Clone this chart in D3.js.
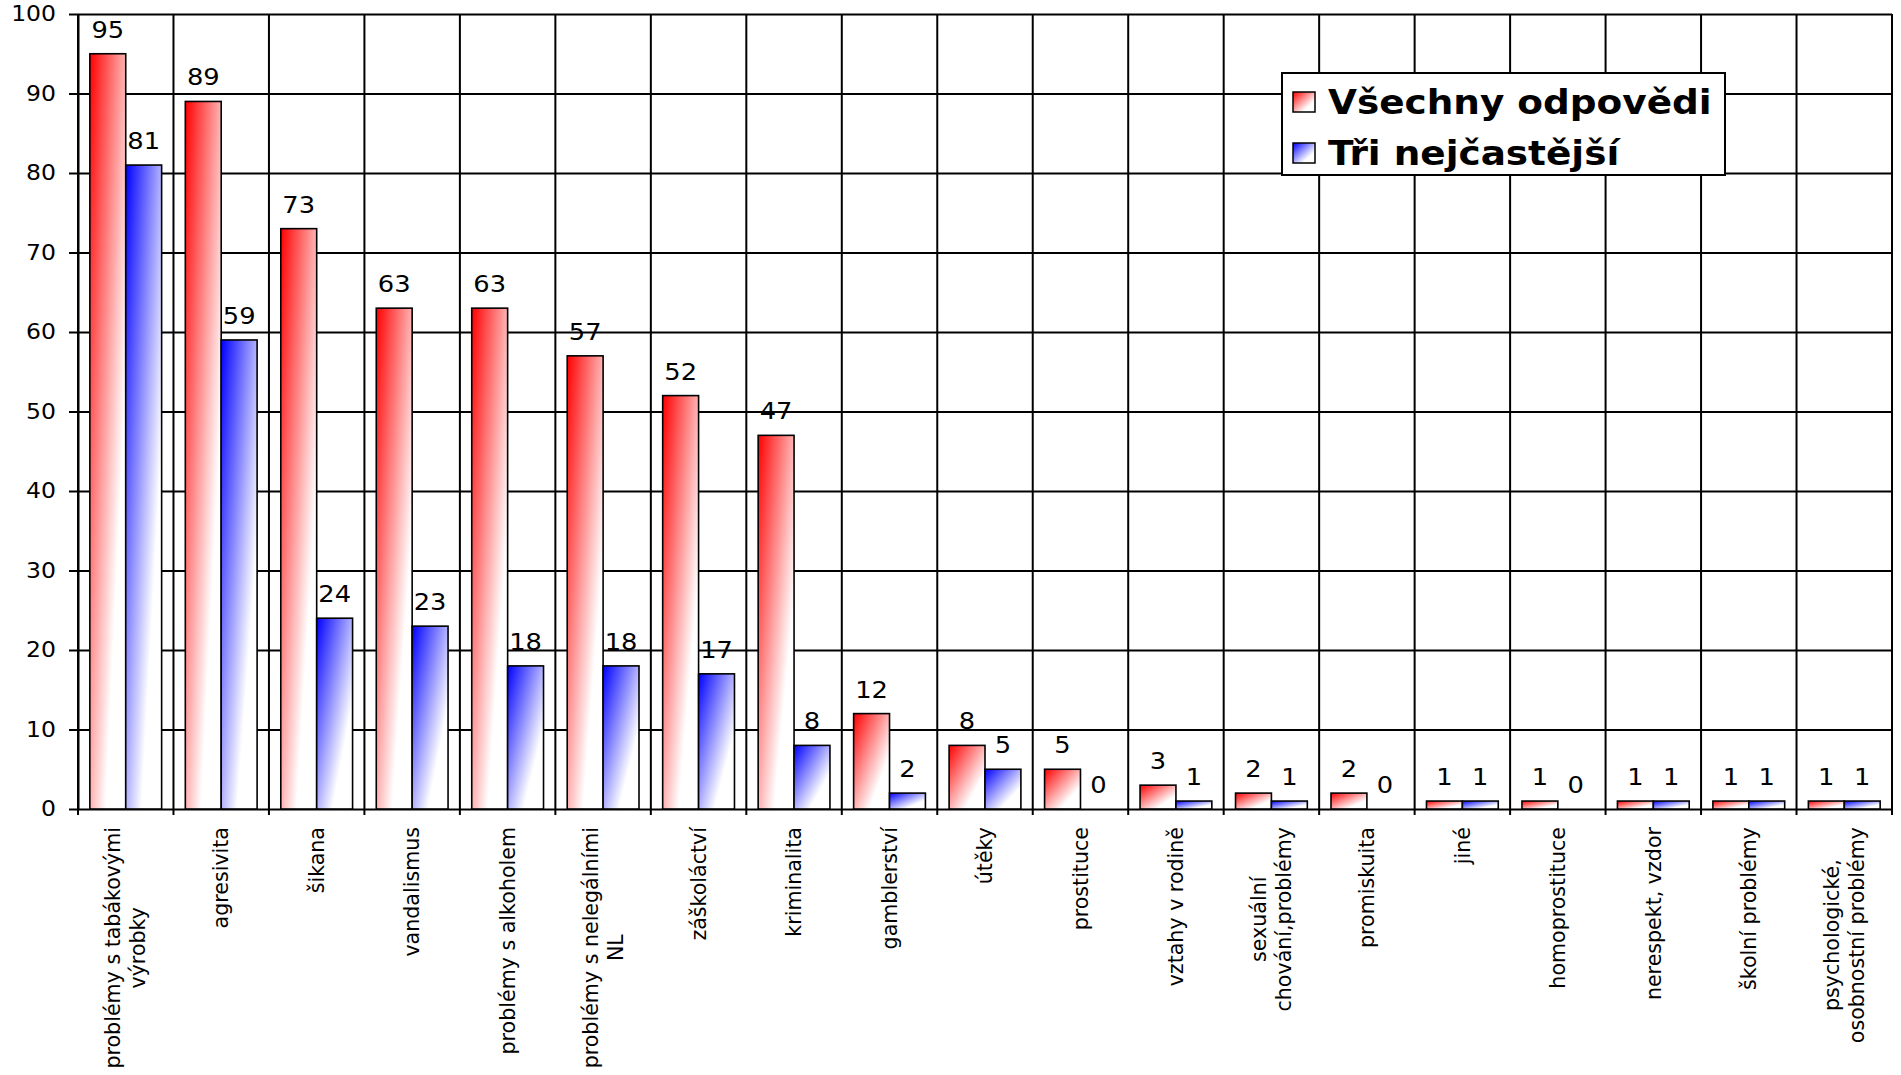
<!DOCTYPE html>
<html>
<head>
<meta charset="utf-8">
<script src="https://cdn.jsdelivr.net/npm/d3@7"></script>
<style>
  body { margin: 0; background: #fff; }
  svg { display: block; font-family: "DejaVu Sans", Verdana, sans-serif; }
  /* the reference text is a bit wider than DejaVu, stretch it sideways */
  .wide { transform-box: fill-box; transform-origin: center; transform: scaleX(1.12); }
  .wide-end { transform-box: fill-box; transform-origin: right center; transform: scaleX(1.12); }
  .wide-start { transform-box: fill-box; transform-origin: left center; transform: scaleX(1.1); }
</style>
</head>
<body>
<script>
// chart values
var categories = [
  "problémy s tabákovými\nvýrobky", "agresivita", "šikana", "vandalismus",
  "problémy s alkoholem", "problémy s nelegálními\nNL", "záškoláctví",
  "kriminalita", "gamblerství", "útěky", "prostituce", "vztahy v rodině",
  "sexuální\nchování,problémy", "promiskuita", "jiné", "homoprostituce",
  "nerespekt, vzdor", "školní problémy", "psychologické,\nosobnostní problémy"
];
var allAnswers = [95, 89, 73, 63, 63, 57, 52, 47, 12, 8, 5, 3, 2, 2, 1, 1, 1, 1, 1];
var topThree   = [81, 59, 24, 23, 18, 18, 17, 8, 2, 5, 0, 1, 1, 0, 1, 0, 1, 1, 1];
var seriesNames = ["Všechny odpovědi", "Tři nejčastější"];
var yTicks = [0, 10, 20, 30, 40, 50, 60, 70, 80, 90, 100];

(function() {
  'use strict';

  var W = 1901, H = 1075;
  var margin = {top: 14, left: 78, right: 9, bottom: 266};
  var width = W - margin.left - margin.right;
  var height = H - margin.top - margin.bottom;

  var keys = ["all", "top"];
  var colors = {all: "#ff0000", top: "#0000ff"};

  var data = categories.map(function(c, i) {
    return {categ: c, all: allAnswers[i], top: topThree[i]};
  });

  var svg = d3.select("body").append("svg")
    .attr("width", W)
    .attr("height", H);

  svg.append("rect").attr("width", W).attr("height", H).attr("fill", "#fff");

  // diagonal fade to white, like the office chart fill
  var defs = svg.append("defs");
  keys.forEach(function(k) {
    var grad = defs.append("linearGradient")
      .attr("id", "grad-" + k)
      .attr("x1", 0).attr("y1", 0)
      .attr("x2", 1).attr("y2", 1);
    grad.append("stop").attr("offset", 0).attr("stop-color", colors[k]);
    grad.append("stop").attr("offset", 0.72).attr("stop-color", "#fff");
  });

  var g = svg.append("g")
    .attr("transform", "translate(" + margin.left + "," + margin.top + ")");

  var x0 = d3.scaleBand()
    .domain(categories)
    .range([0, width])
    .paddingInner(0)
    .paddingOuter(0);

  var x1 = d3.scaleBand()
    .domain(keys)
    .range([0, x0.bandwidth()])
    .paddingInner(0)
    .paddingOuter(0.33);

  var y = d3.scaleLinear()
    .domain([0, 100])
    .range([height, 0]);

  // horizontal grid
  var grid = g.append("g")
    .call(d3.axisLeft(y).tickValues(yTicks).tickSize(-width).tickFormat(""));
  grid.select(".domain").remove();
  grid.selectAll("line").attr("stroke", "#000").attr("stroke-width", 2);

  // vertical grid at category edges, running a bit below the axis
  var edges = categories.map(function(c) { return x0(c); }).concat([width]);
  g.append("g")
    .selectAll("line")
    .data(edges)
    .enter().append("line")
    .attr("x1", function(d) { return d; })
    .attr("x2", function(d) { return d; })
    .attr("y1", 0)
    .attr("y2", height + 6)
    .attr("stroke", "#000")
    .attr("stroke-width", 2);

  // y axis with labels
  var yAxis = g.append("g")
    .call(d3.axisLeft(y).tickValues(yTicks).tickSize(9).tickSizeOuter(0).tickPadding(13));
  yAxis.attr("font-size", 21).attr("font-family", null);
  yAxis.selectAll("line").attr("stroke", "#000").attr("stroke-width", 2);
  yAxis.select(".domain").attr("stroke", "#000").attr("stroke-width", 2);
  yAxis.selectAll("text").attr("fill", "#000").attr("class", "wide-end");

  // bars
  var groups = g.append("g")
    .selectAll("g")
    .data(data)
    .enter().append("g")
    .attr("transform", function(d) { return "translate(" + x0(d.categ) + ",0)"; });

  var cells = groups.selectAll("g")
    .data(function(d) {
      return keys.map(function(k) { return {key: k, value: d[k]}; });
    })
    .enter().append("g");

  cells.append("rect")
    .attr("x", function(d) { return x1(d.key); })
    .attr("y", function(d) { return y(d.value); })
    .attr("width", x1.bandwidth())
    .attr("height", function(d) { return height - y(d.value); })
    .attr("fill", function(d) { return "url(#grad-" + d.key + ")"; })
    .attr("stroke", "#000")
    .attr("stroke-width", 1.6);

  cells.append("text")
    .attr("class", "wide")
    .attr("x", function(d) { return x1(d.key) + x1.bandwidth() / 2; })
    .attr("y", function(d) { return y(d.value) - 16; })
    .attr("text-anchor", "middle")
    .attr("font-size", 23)
    .attr("fill", "#000")
    .text(function(d) { return d.value; });

  // rotated category labels, lines centred on each other
  var lineH = 25;
  var labels = g.append("g")
    .selectAll("text")
    .data(categories)
    .enter().append("text")
    .attr("transform", function(d) {
      return "translate(" + (x0(d) + x0.bandwidth() / 2) + "," + (height + 18) + ") rotate(-90)";
    })
    .attr("font-size", 20.6)
    .attr("fill", "#000")
    .attr("text-anchor", "middle");

  labels.each(function(d) {
    var lines = d.split("\n");
    var t = d3.select(this);
    var spans = lines.map(function(line, i) {
      return t.append("tspan")
        .attr("y", (i - (lines.length - 1) / 2) * lineH)
        .attr("dy", "0.35em")
        .text(line);
    });
    var maxLen = d3.max(spans, function(s) { return s.node().getComputedTextLength(); });
    spans.forEach(function(s) { s.attr("x", -maxLen / 2); });
  });

  // legend
  var legend = svg.append("g").attr("transform", "translate(1282,73)");
  legend.append("rect")
    .attr("width", 443)
    .attr("height", 102)
    .attr("fill", "#fff")
    .attr("stroke", "#000")
    .attr("stroke-width", 2);

  var items = legend.selectAll("g")
    .data(keys)
    .enter().append("g")
    .attr("transform", function(d, i) { return "translate(11," + (19 + i * 51) + ")"; });

  items.append("rect")
    .attr("width", 22)
    .attr("height", 20)
    .attr("fill", function(d) { return "url(#grad-" + d + ")"; })
    .attr("stroke", "#000")
    .attr("stroke-width", 1.5);

  items.append("text")
    .attr("class", "wide-start")
    .attr("x", 35)
    .attr("y", 22)
    .attr("font-size", 34)
    .attr("font-weight", "bold")
    .attr("fill", "#000")
    .text(function(d, i) { return seriesNames[i]; });
})();
</script>
</body>
</html>
